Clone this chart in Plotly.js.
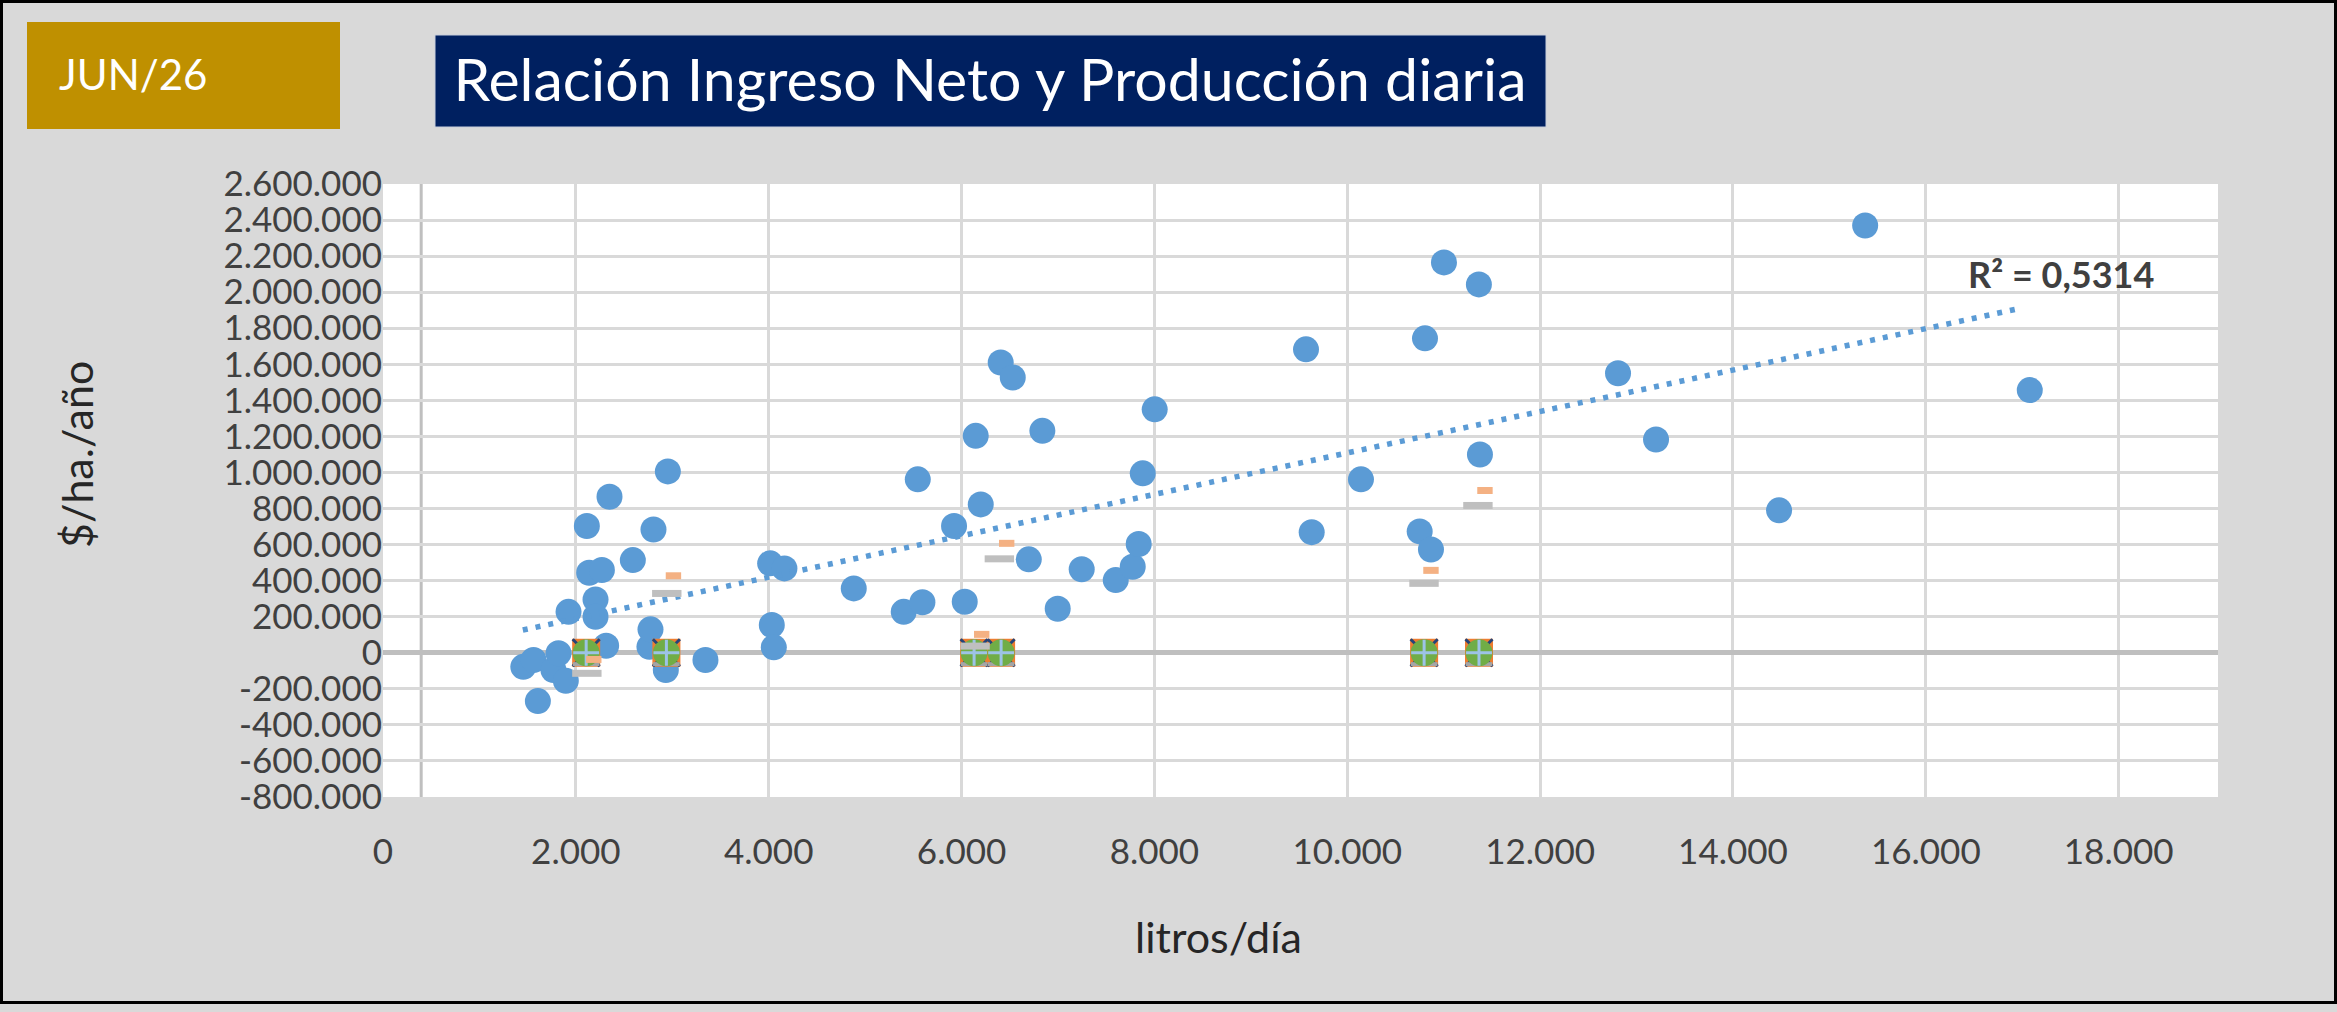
<!DOCTYPE html>
<html>
<head>
<meta charset="utf-8">
<script src="https://cdn.plot.ly/plotly-3.0.1.min.js"></script>
<style>
  html, body { margin: 0; padding: 0; background: #d9d9d9; }
  #chart { width: 2337px; height: 1012px; }
</style>
</head>
<body>
<div id="chart"></div>
<script>
// Ingreso neto ($/ha./año) vs producción diaria (litros/día)
const litros = [1455, 1561, 1606, 1768, 1820, 1896, 1924, 2114, 2138, 2204, 2204, 2270, 2314, 2349,
  2591, 2763, 2774, 2805, 2933, 2954, 3344,
  4015, 4032, 4053, 4163, 4882, 5400, 5546, 5594, 5922, 6033, 6147, 6199, 6406, 6531, 6697, 6838,
  6997, 7246, 7599, 7775, 7837, 7879, 8003,
  9572, 9631, 10142, 10751, 10806, 10868, 11003, 11365, 11376, 12808, 13202, 14478, 15371, 17078];
const ingreso = [-78000, -40000, -268000, -96000, -3000, -155000, 227000, 703000, 444000, 296000, 200000, 459000, 39000, 865000,
  514000, 33000, 130000, 684000, -96000, 1006000, -40000,
  496000, 154000, 30000, 468000, 357000, 227000, 962000, 280000, 703000, 283000, 1203000, 823000, 1610000, 1527000, 518000, 1231000,
  244000, 463000, 403000, 477000, 603000, 995000, 1350000,
  1683000, 669000, 962000, 673000, 1744000, 573000, 2165000, 2043000, 1100000, 1550000, 1183000, 790000, 2370000, 1457000];

// series drawn on the zero line (stacked markers)
const grupoX = [2107, 2939, 6130, 6410, 10797, 11366];
const grupoY = [0, 0, 0, 0, 0, 0];
const grupoBaseY = [-63000, -63000, -63000, -63000, -63000, -63000];

// short dash series
const naranjaX = [2186, 3012, 6209, 6468, 10868, 11428];
const naranjaY = [-37000, 427000, 102000, 607000, 457000, 900000];
const grisX = [2114, 2943, 6140, 6392, 10796, 11355];
const grisY = [-114000, 329000, 37000, 521000, 385000, 817000];

// linear trendline ends
const tendX = [1450, 16941];
const tendY = [126000, 1906000];
const r2Text = 'R² = 0,5314';
const r2Pos = [17400, 2100000];

const ejeVertical = [396];

const xTickVals = [0, 2000, 4000, 6000, 8000, 10000, 12000, 14000, 16000, 18000];
const xTickText = ['0', '2.000', '4.000', '6.000', '8.000', '10.000', '12.000', '14.000', '16.000', '18.000'];
const yTickVals = [2600000, 2400000, 2200000, 2000000, 1800000, 1600000, 1400000, 1200000, 1000000, 800000,
  600000, 400000, 200000, 0, -200000, -400000, -600000, -800000];
const yTickText = ['2.600.000', '2.400.000', '2.200.000', '2.000.000', '1.800.000', '1.600.000', '1.400.000',
  '1.200.000', '1.000.000', '800.000', '600.000', '400.000', '200.000', '0', '-200.000', '-400.000',
  '-600.000', '-800.000'];

// pixel -> paper helpers (plot area is 383..2218 x 184..797)
const W = 2337, H = 1012;
const M = { l: 383, r: 119, t: 184, b: 215 };
const pw = W - M.l - M.r, ph = H - M.t - M.b;
const fx = px => (px - M.l) / pw;
const fy = py => (H - M.b - py) / ph;

const FONT = 'Lato, "Open Sans", sans-serif';

const data = [
  {
    x: litros, y: ingreso, type: 'scatter', mode: 'markers',
    marker: { color: '#5b9bd5', size: 26, line: { width: 0 } }
  },
  {
    x: tendX, y: tendY, type: 'scatter', mode: 'lines',
    line: { color: '#5b9bd5', width: 5.5, dash: '5px,8px' }
  },
  {
    x: grupoX, y: grupoY, type: 'scatter', mode: 'markers',
    marker: { symbol: 'square', color: '#ed7d31', size: 28, line: { width: 0 } }
  },
  {
    x: grupoX, y: grupoY, type: 'scatter', mode: 'markers',
    marker: { symbol: 'x-thin', color: '#264478', size: 27, line: { color: '#264478', width: 3 } }
  },
  {
    x: grupoX, y: grupoBaseY, type: 'scatter', mode: 'markers',
    marker: { symbol: 'line-ew', color: '#a5a5a5', size: 19, line: { color: '#a5a5a5', width: 4 } }
  },
  {
    x: grupoX, y: grupoY, type: 'scatter', mode: 'markers',
    marker: { symbol: 'circle', color: '#70ad47', size: 27, line: { width: 0 } }
  },
  {
    x: grupoX, y: grupoY, type: 'scatter', mode: 'markers',
    marker: { symbol: 'cross-thin', color: '#9dc3e6', size: 18.5, line: { color: '#9dc3e6', width: 3 } }
  },
  {
    x: naranjaX, y: naranjaY, type: 'scatter', mode: 'markers',
    marker: { symbol: 'line-ew', color: '#f4b183', size: 11, line: { color: '#f4b183', width: 7 } }
  },
  {
    x: grisX, y: grisY, type: 'scatter', mode: 'markers',
    marker: { symbol: 'line-ew', color: '#bfbfbf', size: 21, line: { color: '#bfbfbf', width: 7 } }
  }
];

const layout = {
  width: W, height: H,
  margin: M,
  showlegend: false,
  paper_bgcolor: '#d9d9d9',
  plot_bgcolor: '#ffffff',
  font: { family: FONT, color: '#404040' },
  title: {
    text: 'Relación Ingreso Neto y Producción diaria',
    font: { family: FONT, size: 59, color: '#ffffff' },
    xref: 'container', yref: 'container',
    x: 990 / W, y: 1 - 80 / H,
    xanchor: 'center', yanchor: 'middle'
  },
  xaxis: {
    range: [0, 19030],
    tickvals: xTickVals, ticktext: xTickText,
    tickfont: { family: FONT, size: 35, color: '#404040' },
    ticklabelstandoff: 31,
    showgrid: true, gridcolor: '#d9d9d9', gridwidth: 3,
    zeroline: false, showline: false, ticks: '',
    fixedrange: true
  },
  yaxis: {
    range: [-800000, 2600000],
    tickvals: yTickVals, ticktext: yTickText,
    tickfont: { family: FONT, size: 35, color: '#404040' },
    showgrid: true, gridcolor: '#d9d9d9', gridwidth: 3,
    zeroline: true, zerolinecolor: '#bfbfbf', zerolinewidth: 5,
    showline: false, ticks: '',
    fixedrange: true
  },
  shapes: [
    // marco exterior
    { type: 'rect', xref: 'paper', yref: 'paper', x0: fx(1.5), x1: fx(2335.5), y0: fy(1.5), y1: fy(1002.5),
      line: { color: '#000000', width: 3 }, fillcolor: 'rgba(0,0,0,0)', layer: 'above' },
    // caja fecha
    { type: 'rect', xref: 'paper', yref: 'paper', x0: fx(27), x1: fx(340), y0: fy(22), y1: fy(129),
      line: { width: 0 }, fillcolor: '#bf9000', layer: 'below' },
    // caja titulo
    { type: 'rect', xref: 'paper', yref: 'paper', x0: fx(435), x1: fx(1546), y0: fy(35), y1: fy(127),
      line: { color: '#c9cfdc', width: 1 }, fillcolor: '#002060', layer: 'below' },
    // linea vertical del eje
    { type: 'line', xref: 'x', yref: 'paper', x0: ejeVertical[0], x1: ejeVertical[0], y0: 0, y1: 1,
      line: { color: '#bfbfbf', width: 3 }, layer: 'below' }
  ],
  annotations: [
    { xref: 'paper', yref: 'paper', x: fx(57), y: fy(74), xanchor: 'left', yanchor: 'middle',
      text: 'JUN/26', showarrow: false, font: { family: FONT, size: 42, color: '#ffffff' } },
    { xref: 'x', yref: 'y', x: r2Pos[0], y: r2Pos[1], xanchor: 'center', yanchor: 'middle',
      text: '<b>' + r2Text + '</b>', showarrow: false, font: { family: FONT, size: 36, color: '#404040' } },
    // axis titles
    { xref: 'paper', yref: 'paper', x: fx(1218), y: fy(936), xanchor: 'center', yanchor: 'middle',
      text: 'litros/día', showarrow: false, font: { family: FONT, size: 43, color: '#262626' } },
    { xref: 'paper', yref: 'paper', x: fx(76), y: fy(455), xanchor: 'center', yanchor: 'middle',
      textangle: -90, text: '$/ha./año', showarrow: false, font: { family: FONT, size: 43, color: '#262626' } }
  ]
};

Plotly.newPlot('chart', data, layout, { staticPlot: true, displayModeBar: false });
</script>
</body>
</html>
